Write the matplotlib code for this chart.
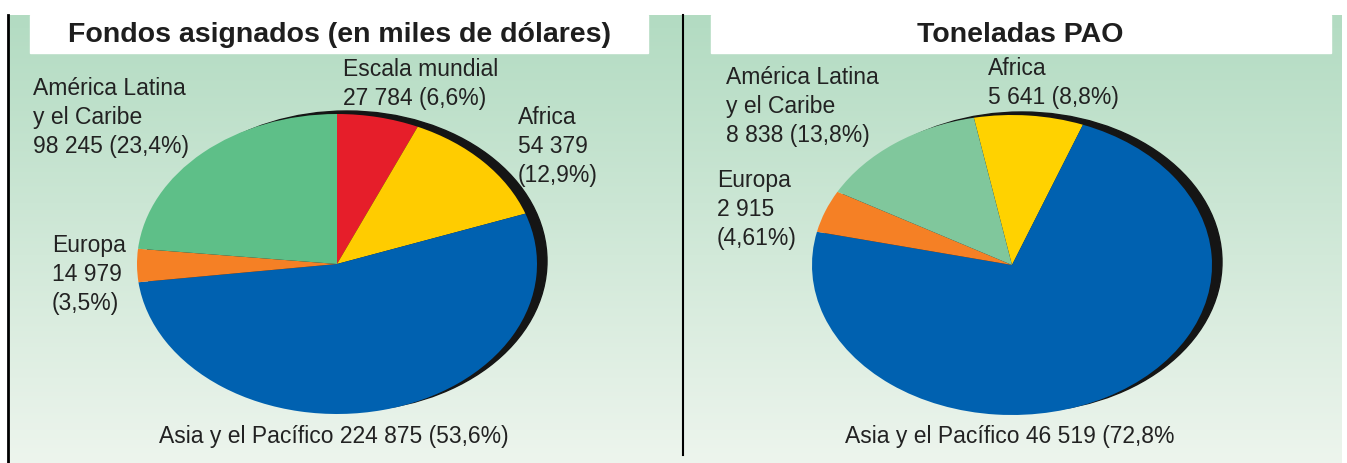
import numpy as np
import matplotlib
matplotlib.use("Agg")
import matplotlib.pyplot as plt
from matplotlib.patches import Ellipse, Rectangle

plt.rcParams['font.family'] = ['Liberation Sans', 'DejaVu Sans']

# Fondos asignados (miles de dólares), clockwise from the top
fondos_labels = ["Escala mundial", "Africa", "Asia y el Pacífico", "Europa",
                 "América Latina y el Caribe"]
fondos_values = [27784, 54379, 224875, 14979, 98245]
fondos_colors = ["#e61e2a", "#ffcc00", "#0061b0", "#f58025", "#5ebf88"]

# Toneladas PAO, clockwise from Africa
pao_labels = ["Africa", "Asia y el Pacífico", "Europa", "América Latina y el Caribe"]
pao_values = [5641, 46519, 2915, 8838]
pao_colors = ["#ffd200", "#0061b0", "#f58025", "#80c79c"]

W, H = 1347, 464
fig = plt.figure(figsize=(W / 100, H / 100), dpi=100)

# background layer in pixel coordinates
bg = fig.add_axes([0, 0, 1, 1])
bg.set_xlim(0, W)
bg.set_ylim(H, 0)
bg.axis("off")
grad = np.linspace(0, 1, 200)[:, None]
top = np.array([0.70, 0.86, 0.76])
bot = np.array([0.93, 0.96, 0.93])
img = top + (bot - top) * grad[..., None]
bg.imshow(img, extent=(8, 1342, H, 16), aspect="auto", zorder=0)
bg.plot([8, 8], [16, H], color="black", lw=2, zorder=2)
bg.plot([683, 683], [16, 456], color="black", lw=1.5, zorder=2)
bg.add_patch(Rectangle((30, 16), 618, 38, color="white", zorder=1))
bg.add_patch(Rectangle((711, 16), 620, 38, color="white", zorder=1))
bg.text(339, 35, "Fondos asignados (en miles de dólares)", ha="center", va="center",
        fontsize=20.5, fontweight="bold", color="#1e1e1e")
bg.text(1020, 35, "Toneladas PAO", ha="center", va="center",
        fontsize=20.5, fontweight="bold", color="#1e1e1e")

lab = dict(fontsize=16.5, color="#222222", va="top", ha="left", linespacing=1.33)
bg.text(33, 77, "América Latina\ny el Caribe\n98 245 (23,4%)", **lab)
bg.text(343, 58, "Escala mundial\n27 784 (6,6%)", **lab)
bg.text(518, 106, "Africa\n54 379\n(12,9%)", **lab)
bg.text(52, 234, "Europa\n14 979\n(3,5%)", **lab)
bg.text(334, 437, "Asia y el Pacífico 224 875 (53,6%)", ha="center", va="center",
        fontsize=16.5, color="#222222")

bg.text(726, 66, "América Latina\ny el Caribe\n8 838 (13,8%)", **lab)
bg.text(988, 57, "Africa\n5 641 (8,8%)", **lab)
bg.text(717, 169, "Europa\n2 915\n(4,61%)", **lab)
bg.text(1010, 437, "Asia y el Pacífico 46 519 (72,8%", ha="center", va="center",
        fontsize=16.5, color="#222222")


def draw_pie(cx, cy, values, colors, start):
    rx, ry = 200, 150
    ax = fig.add_axes([(cx - 1.1 * rx) / W, (H - cy - 1.1 * ry) / H,
                       2.2 * rx / W, 2.2 * ry / H])
    ax.axis("off")
    ax.add_patch(Ellipse((0.05, 0.02), 2.0, 2.0, color="#151515", zorder=1))
    ax.pie(values, colors=colors, startangle=start, counterclock=False,
           radius=1.0, wedgeprops=dict(linewidth=0, zorder=2))
    ax.set_aspect("auto")
    ax.set_xlim(-1.1, 1.1)
    ax.set_ylim(-1.1, 1.1)
    return ax


draw_pie(337, 265, fondos_values, fondos_colors, 90)
draw_pie(1012, 266, pao_values, pao_colors, 101)

fig.savefig("out.png", dpi=100)
